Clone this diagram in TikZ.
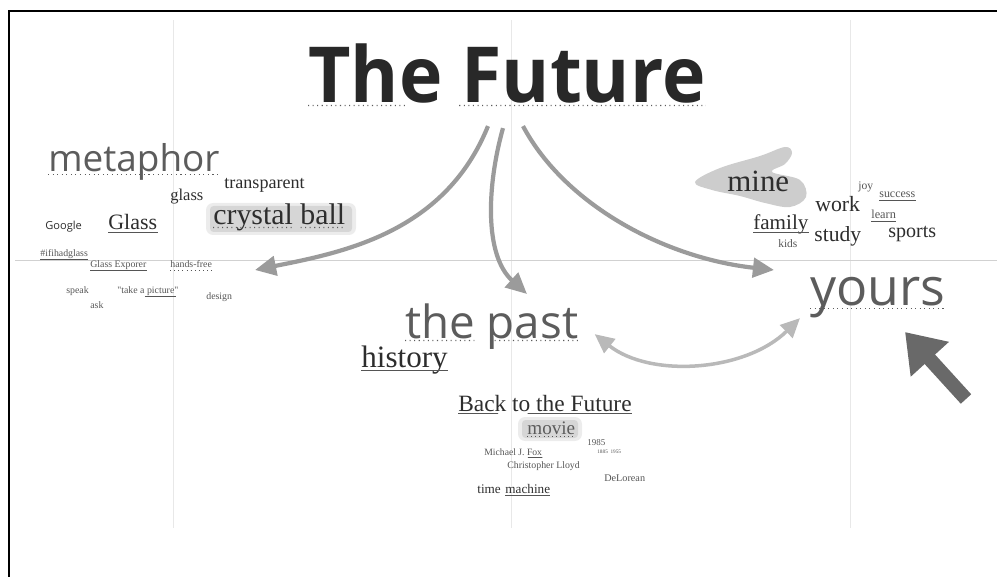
\documentclass[tikz,border=0pt]{standalone}
\usepackage{fontspec}
\usepackage{tikz}
\usetikzlibrary{arrows.meta,calc}
\usepackage{xcolor}
\newfontfamily\opensans{Open Sans}
\newfontfamily\serifw{Liberation Serif}
\definecolor{TitleInk}{RGB}{40,40,40}
\definecolor{WordGray}{RGB}{92,92,92}
\definecolor{SerifInk}{RGB}{45,45,45}
\definecolor{SmallInk}{RGB}{85,85,85}
\definecolor{ArrowGray}{RGB}{155,155,155}
\definecolor{LightArrow}{RGB}{185,185,185}
\definecolor{BigArrow}{RGB}{105,105,105}
\definecolor{GridGray}{RGB}{232,232,232}
\definecolor{HiGray}{RGB}{200,200,200}
\newcommand{\fs}[1]{\fontsize{#1}{#1}\selectfont}
\newcommand{\uline}[4][solid]{\draw[uline,#1] ($(#2.base west)!#3!(#2.base east)+(0,2.5)$) -- ($(#2.base west)!#4!(#2.base east)+(0,2.5)$);}

\begin{document}
\begin{tikzpicture}[x=0.02cm,y=-0.02cm,
  sansw/.style={font=\opensans,text=WordGray,inner sep=0pt,anchor=base west},
  serw/.style={font=\serifw,text=SerifInk,inner sep=0pt,anchor=base west},
  tinyw/.style={font=\serifw\fs{5.6},text=SmallInk,inner sep=0pt,anchor=base west},
  uline/.style={draw=SmallInk,line width=0.35pt},
  dotl/.style={draw=WordGray,line width=0.6pt,dotted},
  curve/.style={draw=ArrowGray,line width=2.4pt,-{Triangle[length=12pt,width=11pt]}},
]
\useasboundingbox (0,0) rectangle (997,577);
% frame and grid
\draw[black,line width=1.1pt] (9,577) -- (9,11) -- (997,11);
\draw[GridGray,line width=0.5pt] (173,20) -- (173,528);
\draw[GridGray,line width=0.5pt] (511,20) -- (511,528);
\draw[GridGray,line width=0.5pt] (850,20) -- (850,528);
\draw[GridGray!90!black,line width=0.5pt] (15,260) -- (997,260);

% highlights
\fill[HiGray,opacity=0.35,rounded corners=4pt] (206,203) rectangle (356,235);
\fill[HiGray,opacity=0.6,rounded corners=2pt] (210,206) rectangle (352,232);
\fill[HiGray,opacity=0.35,rounded corners=4pt] (518,417) rectangle (582,441);
\fill[HiGray,opacity=0.6,rounded corners=2pt] (522,420) rectangle (578,438);
\fill[HiGray,opacity=0.9] plot[smooth cycle,tension=0.6] coordinates
  {(695,182) (720,168) (760,156) (785,147) (792,153) (785,164) (772,172)
   (800,180) (806,197) (790,207) (765,203) (740,196) (712,190)};

% title
\node[font=\opensans\bfseries\fs{44},text=TitleInk,inner sep=0pt,anchor=base west]
  (future) at (308,103) {\scalebox{0.95}[1]{The Future}};
\uline[dotl]{future}{0}{0.25}
\uline[dotl]{future}{0.38}{1}

% left cluster
\node[sansw,font=\opensans\fs{21}] (metaphor) at (48,172) {metaphor};
\uline[dotl]{metaphor}{0}{1}
\node[serw,font=\serifw\fs{9.4}] (glass) at (170,201) {glass};
\node[serw,font=\serifw\fs{10.3}] (transp) at (224,189) {transparent};
\node[serw,font=\serifw\fs{17}] (crystal) at (213,225) {crystal ball};
\uline[dotl]{crystal}{0}{0.6}
\uline[dotl]{crystal}{0.66}{1}
\node[sansw,font=\opensans\fs{6.3},text=SerifInk] (google) at (45,230) {Google};
\node[serw,font=\serifw\fs{12.5}] (bigglass) at (108,230) {Glass};
\uline{bigglass}{0}{1}
\node[tinyw] (hashtag) at (40,257) {\#ifihadglass};
\uline{hashtag}{0}{1}
\node[tinyw] (explorer) at (90,268) {Glass Exporer};
\uline{explorer}{0}{1}
\node[tinyw] (handsfree) at (170,268) {hands-free};
\uline[dotted]{handsfree}{0}{1}
\node[tinyw] (speak) at (66,294) {speak};
\node[tinyw] (picture) at (117,294) {"take a picture"};
\uline{picture}{0.45}{0.95}
\node[tinyw] (ask) at (90,309) {ask};
\node[tinyw] (design) at (206,300) {design};

% right cluster
\node[serw,font=\serifw\fs{17.6}] (mine) at (727,192) {mine};
\node[tinyw,font=\serifw\fs{6.6}] (joy) at (858,190) {joy};
\node[tinyw,font=\serifw\fs{6.8}] (success) at (879,198) {success};
\uline{success}{0}{1}
\node[serw,font=\serifw\fs{12.4}] (work) at (815,212) {work};
\node[tinyw,font=\serifw\fs{7}] (learn) at (871,219) {learn};
\uline{learn}{0}{1}
\node[serw,font=\serifw\fs{12}] (family) at (753,230) {family};
\uline{family}{0}{1}
\node[serw,font=\serifw\fs{12.3}] (study) at (814,242) {study};
\node[serw,font=\serifw\fs{11.4}] (sports) at (888,238) {sports};
\node[tinyw,font=\serifw\fs{6.5}] (kids) at (778,248) {kids};
\node[sansw,font=\opensans\fs{29.5}] (yours) at (810,306) {yours};
\uline[dotl]{yours}{0}{1}

% centre cluster
\node[sansw,font=\opensans\fs{26}] (past) at (405,338) {the past};
\uline[dotl]{past}{0}{0.4}
\uline[dotl]{past}{0.49}{1}
\node[serw,font=\serifw\fs{17.7}] (history) at (361,368) {history};
\uline{history}{0}{1}
\node[serw,font=\serifw\fs{13.3}] (bttf) at (458,411) {Back to the Future};
\uline{bttf}{0}{0.23}
\uline{bttf}{0.4}{1}
\node[serw,font=\serifw\fs{10.9},text=WordGray] (movie) at (527,434) {movie};
\uline[dotted]{movie}{0}{1}
\node[tinyw,font=\serifw\fs{5.1}] (year) at (587,445) {1985};
\node[tinyw,font=\serifw\fs{3}] (years) at (597,453) {1885 \ 1955};
\node[tinyw,font=\serifw\fs{5.5}] (fox) at (484,455) {Michael J. Fox};
\uline{fox}{0.75}{1}
\node[tinyw] (lloyd) at (507,468) {Christopher Lloyd};
\node[tinyw,font=\serifw\fs{5.8}] (delorean) at (604,481) {DeLorean};
\node[tinyw,font=\serifw\fs{7.5},text=SerifInk] (tmtime) at (477,493) {time};
\node[tinyw,font=\serifw\fs{7.5},text=SerifInk,anchor=base west] (tmmach) at ($(tmtime.base east)+(4,0)$) {machine};
\uline{tmmach}{0}{1}

% arrow ends
\coordinate (fl) at ($(future.south west)+(180,22)$);
\coordinate (fm) at ($(future.south west)+(195,24)$);
\coordinate (fr) at ($(future.south west)+(215,22)$);
\coordinate (metaend) at (255,270);
\coordinate (pastend) at (527,294);
\coordinate (yourend) at (774,270);
\coordinate (pastside) at ($(past.east)+(16,8)$);
\coordinate (yourside) at ($(yours.west)+(-10,20)$);
\coordinate (bigtip) at (905,332);
\coordinate (bigtail) at (966,399);

% arrows
\draw[curve] (fl) .. controls (445,232) and (345,252) .. (metaend);
\draw[curve] (fm) .. controls (487,185) and (484,255) .. (pastend);
\draw[curve] (fr) .. controls (565,205) and (665,258) .. (yourend);
\draw[draw=LightArrow,line width=2pt,{Triangle[length=11pt,width=10pt]}-{Triangle[length=11pt,width=10pt]}]
  (pastside) .. controls (650,378) and (745,372) .. (yourside);
\draw[draw=BigArrow,line width=8pt,-{Triangle[length=21pt,width=28pt]}] (bigtail) -- (bigtip);
\end{tikzpicture}
\end{document}
